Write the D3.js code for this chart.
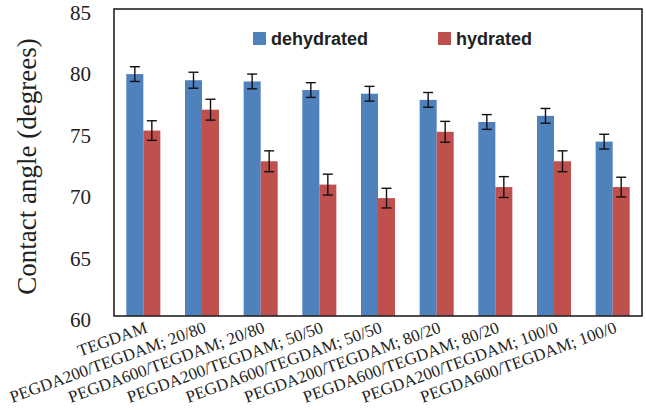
<!DOCTYPE html>
<html>
<head>
<meta charset="utf-8">
<script src="https://cdn.jsdelivr.net/npm/d3@7"></script>
<style>
  html, body { margin: 0; padding: 0; background: #fff; }
  svg { display: block; }
</style>
</head>
<body>
<svg id="chart" width="646" height="410"></svg>
<script>
const categories = [
  "TEGDAM",
  "PEGDA200/TEGDAM; 20/80",
  "PEGDA600/TEGDAM; 20/80",
  "PEGDA200/TEGDAM; 50/50",
  "PEGDA600/TEGDAM; 50/50",
  "PEGDA200/TEGDAM; 80/20",
  "PEGDA600/TEGDAM; 80/20",
  "PEGDA200/TEGDAM; 100/0",
  "PEGDA600/TEGDAM; 100/0"
];
const seriesNames = ["dehydrated", "hydrated"];
const dehydrated = [79.7, 79.2, 79.1, 78.4, 78.1, 77.6, 75.8, 76.3, 74.2];
const dehydratedErr = [0.6, 0.65, 0.6, 0.6, 0.6, 0.6, 0.6, 0.6, 0.6];
const hydrated = [75.1, 76.8, 72.6, 70.7, 69.6, 75.0, 70.5, 72.6, 70.5];
const hydratedErr = [0.8, 0.85, 0.85, 0.85, 0.8, 0.85, 0.85, 0.85, 0.8];
const yTicks = [60, 65, 70, 75, 80, 85];
const colors = ["#4F81BD", "#C0504D"];
const yTitle = "Contact angle (degrees)";

const svg = d3.select("#chart");
const mLeft = 114, mRight = 642, mTop = 9, mBottom = 316;

const x0 = d3.scaleBand().domain(categories).range([mLeft, mRight])
  .paddingInner(0.42).paddingOuter(0.21);
const x1 = d3.scaleBand().domain(seriesNames).range([0, x0.bandwidth()]).padding(0);
const y = d3.scaleLinear().domain([60, 85]).range([mBottom, mTop]);
const color = d3.scaleOrdinal().domain(seriesNames).range(colors);

const data = categories.map((c, i) => ({
  cat: c,
  vals: [
    {s: "dehydrated", v: dehydrated[i], e: dehydratedErr[i]},
    {s: "hydrated", v: hydrated[i], e: hydratedErr[i]}
  ]
}));

const g = svg.append("g");
const groups = g.selectAll("g.grp").data(data).join("g")
  .attr("class", "grp")
  .attr("transform", d => `translate(${x0(d.cat)},0)`);

groups.selectAll("rect").data(d => d.vals).join("rect")
  .attr("x", d => x1(d.s))
  .attr("y", d => y(d.v))
  .attr("width", x1.bandwidth())
  .attr("height", d => y(60) - y(d.v))
  .attr("fill", d => color(d.s));

// error bars
const capW = 5;
const eb = groups.selectAll("g.eb").data(d => d.vals).join("g").attr("class", "eb")
  .attr("stroke", "#111").attr("stroke-width", 1.4);
eb.append("line")
  .attr("x1", d => x1(d.s) + x1.bandwidth() / 2)
  .attr("x2", d => x1(d.s) + x1.bandwidth() / 2)
  .attr("y1", d => y(d.v + d.e)).attr("y2", d => y(d.v - d.e));
eb.append("line")
  .attr("x1", d => x1(d.s) + x1.bandwidth() / 2 - capW)
  .attr("x2", d => x1(d.s) + x1.bandwidth() / 2 + capW)
  .attr("y1", d => y(d.v + d.e)).attr("y2", d => y(d.v + d.e));
eb.append("line")
  .attr("x1", d => x1(d.s) + x1.bandwidth() / 2 - capW)
  .attr("x2", d => x1(d.s) + x1.bandwidth() / 2 + capW)
  .attr("y1", d => y(d.v - d.e)).attr("y2", d => y(d.v - d.e));

// frame
svg.append("rect")
  .attr("x", mLeft).attr("y", mTop)
  .attr("width", mRight - mLeft).attr("height", mBottom - mTop)
  .attr("fill", "none").attr("stroke", "#222").attr("stroke-width", 1.6);

// y axis labels
const yAxis = d3.axisLeft(y).tickValues(yTicks).tickSize(0).tickPadding(23);
const ya = svg.append("g").attr("transform", `translate(${mLeft},0)`).call(yAxis);
ya.select(".domain").remove();
ya.selectAll("text")
  .attr("font-family", "'Liberation Serif', 'Times New Roman', serif")
  .attr("font-size", 21).attr("fill", "#222").attr("dy", "0.5em");

// y title
svg.append("text")
  .attr("transform", `translate(36,${(mTop + mBottom) / 2 + 4}) rotate(-90)`)
  .attr("text-anchor", "middle")
  .attr("font-family", "'Liberation Serif', 'Times New Roman', serif")
  .attr("font-size", 27).attr("fill", "#222")
  .text(yTitle);

// x labels
svg.append("g").selectAll("text").data(categories).join("text")
  .attr("transform", d => `translate(${x0(d) + x0.bandwidth() / 2 + 5},332) rotate(-20)`)
  .attr("text-anchor", "end")
  .attr("font-family", "'Liberation Serif', 'Times New Roman', serif")
  .attr("font-size", 17).attr("fill", "#222")
  .text(d => d);

// legend
const legendX = [253, 438];
const lg = svg.append("g").selectAll("g").data(seriesNames).join("g")
  .attr("transform", (d, i) => `translate(${legendX[i]},32)`);
lg.append("rect").attr("width", 13).attr("height", 13).attr("fill", d => color(d));
lg.append("text").attr("x", 18).attr("y", 13)
  .attr("font-family", "'Liberation Sans', Arial, sans-serif")
  .attr("font-weight", "bold").attr("font-size", 18).attr("fill", "#222")
  .text(d => d);
</script>
</body>
</html>
